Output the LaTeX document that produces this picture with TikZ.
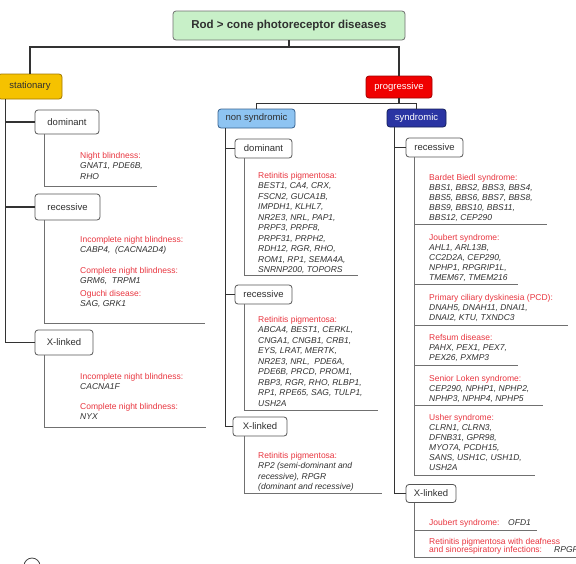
\documentclass[tikz,border=0pt]{standalone}
\usepackage{fontspec}
\setmainfont{Liberation Sans}
\definecolor{titlefill}{RGB}{200,240,200}
\definecolor{titleline}{RGB}{110,110,110}
\definecolor{statfill}{RGB}{245,194,0}
\definecolor{statline}{RGB}{160,120,0}
\definecolor{progfill}{RGB}{240,0,0}
\definecolor{progline}{RGB}{160,0,0}
\definecolor{nsfill}{RGB}{142,196,242}
\definecolor{nsline}{RGB}{53,97,143}
\definecolor{synfill}{RGB}{42,52,163}
\definecolor{synline}{RGB}{21,32,90}
\definecolor{rd}{RGB}{232,53,63}
\definecolor{gene}{RGB}{48,48,48}
\definecolor{spinec}{RGB}{51,51,51}
\definecolor{innerc}{RGB}{112,112,112}
\definecolor{boxline}{RGB}{85,85,85}
\newcommand\myhd[1]{\textcolor{rd}{#1}}
\newcommand\mygn[1]{\textit{#1}}
\begin{document}
\begin{tikzpicture}[x=1pt,y=-1pt,
  box/.style={draw=boxline, fill=white, rounded corners=3pt, line width=0.8pt,
    font=\fontsize{9.5}{11}\selectfont, text=gene, inner sep=0pt},
  spine/.style={draw=spinec, line width=1.1pt},
  inner/.style={draw=innerc, line width=0.9pt},
  blk/.style={anchor=base west, align=left, inner sep=0pt,
    font=\fontsize{8.5}{10.5}\selectfont, text=gene},
  blkr/.style={blk, font=\fontsize{8.5}{10.1}\selectfont}]
\useasboundingbox (0,0) rectangle (576,563);
\clip (0,0) rectangle (576,563);

% boxes
\node[box, fill=titlefill, draw=titleline, minimum width=232, minimum height=29,
  font=\bfseries\fontsize{11.5}{13}\selectfont] (title) at (289,25.5) {Rod > cone photoreceptor diseases};
\node[box, fill=statfill, draw=statline, minimum width=64, minimum height=25] (stat) at (30,86.5) {stationary};
\node[box, fill=progfill, draw=progline, text=white, minimum width=66, minimum height=22] (prog) at (399,87) {progressive};
\node[box, fill=nsfill, draw=nsline, minimum width=77, minimum height=19] (nonsyn) at (256.5,118.5) {non syndromic};
\node[box, fill=synfill, draw=synline, text=white, minimum width=59, minimum height=18] (syn) at (416.5,118) {syndromic};

\node[box, minimum width=64, minimum height=24] (sdom) at (67,122) {dominant};
\node[box, minimum width=65, minimum height=26] (srec) at (67.5,207) {recessive};
\node[box, minimum width=58, minimum height=25] (sxl) at (64,342.5) {X-linked};

\node[box, minimum width=57, minimum height=19] (ndom) at (263.5,148.5) {dominant};
\node[box, minimum width=57, minimum height=19] (nrec) at (263.5,294.5) {recessive};
\node[box, minimum width=54, minimum height=19] (nxl) at (260,426.5) {X-linked};

\node[box, minimum width=57, minimum height=19] (yrec) at (434.5,147.5) {recessive};
\node[box, minimum width=50, minimum height=18] (yxl) at (431,493.5) {X-linked};

% main connectors
\coordinate (j1) at (289,47);
\draw[spine] (title.south) -- (j1);
\draw[spine] (j1) -| (stat.north);
\draw[spine] (j1) -| (prog.north);
\draw[spine] (prog.south) -- ++(0,5) coordinate (j2);
\draw[spine] (j2) -| (nonsyn.north);
\draw[spine] (j2) -| (syn.north);

\draw[spine] ([xshift=8pt]stat.south west) |- (sdom.west);
\draw[spine] ([xshift=8pt]stat.south west) |- (srec.west);
\draw[spine] ([xshift=8pt]stat.south west) |- (sxl.west);

\draw[spine] ([xshift=8pt]nonsyn.south west) |- (ndom.west);
\draw[spine] ([xshift=8pt]nonsyn.south west) |- (nrec.west);
\draw[spine] ([xshift=8pt]nonsyn.south west) |- (nxl.west);

\draw[spine] ([xshift=8pt]syn.south west) |- (yrec.west);
\draw[spine] ([xshift=8pt]syn.south west) |- (yxl.west);

% inner brackets
\coordinate (e1) at (157,186);
\coordinate (e2) at (205,323);
\coordinate (e3) at (206,427);
\coordinate (e4) at (358,275);
\coordinate (e5) at (378,410);
\coordinate (e6) at (382,493);
\draw[inner] ([xshift=10pt]sdom.south west) |- (e1);
\draw[inner] ([xshift=10pt]srec.south west) |- (e2);
\draw[inner] ([xshift=10pt]sxl.south west) |- (e3);
\draw[inner] ([xshift=10pt]ndom.south west) |- (e4);
\draw[inner] ([xshift=10pt]nrec.south west) |- (e5);
\draw[inner] ([xshift=12pt]nxl.south west) |- (e6);

\coordinate (yv) at ([xshift=9pt]yrec.south west);
\coordinate (r1) at (547,224);
\coordinate (r2) at (518,284);
\coordinate (r3) at (568,325);
\coordinate (r4) at (518,365);
\coordinate (r5) at (543,405);
\coordinate (r6) at (535,475);
\draw[inner] (yv) |- (r6);
\draw[inner] (yv |- r1) -- (r1);
\draw[inner] (yv |- r2) -- (r2);
\draw[inner] (yv |- r3) -- (r3);
\draw[inner] (yv |- r4) -- (r4);
\draw[inner] (yv |- r5) -- (r5);

\coordinate (xv) at ([xshift=9pt]yxl.south west);
\coordinate (x1) at (537,530);
\coordinate (x2) at (590,557);
\draw[inner] (xv) |- (x2);
\draw[inner] (xv |- x1) -- (x1);

% texts, left column (anchor = baseline of last line)
\node[blk] (sdomt) at (80,179) {\myhd{Night blindness:}\\ \mygn{GNAT1, PDE6B,}\\ \mygn{RHO}};
\node[blk] (sreca) at (80,252.5) {\myhd{Incomplete night blindness:}\\ \mygn{CABP4,\ \ (CACNA2D4)}};
\node[blk] (srecb) at (80,283.5) {\myhd{Complete night blindness:}\\ \mygn{GRM6,\ \ TRPM1}};
\node[blk] (srecc) at (80,306.5) {\myhd{Oguchi disease:}\\ \mygn{SAG, GRK1}};
\node[blk] (sxla) at (80,389.5) {\myhd{Incomplete night blindness:}\\ \mygn{CACNA1F}};
\node[blk] (sxlb) at (80,419.5) {\myhd{Complete night blindness:}\\ \mygn{NYX}};

% middle column
\node[blk] (ndomt) at (258,272.5) {\myhd{Retinitis pigmentosa:}\\ \mygn{BEST1, CA4, CRX,}\\ \mygn{FSCN2, GUCA1B,}\\ \mygn{IMPDH1, KLHL7,}\\ \mygn{NR2E3, NRL, PAP1,}\\ \mygn{PRPF3, PRPF8,}\\ \mygn{PRPF31, PRPH2,}\\ \mygn{RDH12, RGR, RHO,}\\ \mygn{ROM1, RP1, SEMA4A,}\\ \mygn{SNRNP200, TOPORS}};
\node[blk] (nrect) at (258,406) {\myhd{Retinitis pigmentosa:}\\ \mygn{ABCA4, BEST1, CERKL,}\\ \mygn{CNGA1, CNGB1, CRB1,}\\ \mygn{EYS, LRAT, MERTK,}\\ \mygn{NR2E3, NRL,\ \ PDE6A,}\\ \mygn{PDE6B, PRCD, PROM1,}\\ \mygn{RBP3, RGR, RHO, RLBP1,}\\ \mygn{RP1, RPE65, SAG, TULP1,}\\ \mygn{USH2A}};
\node[blk] (nxlt) at (258,489.5) {\myhd{Retinitis pigmentosa:}\\ \mygn{RP2 (semi-dominant and}\\ \mygn{recessive), RPGR}\\ \mygn{(dominant and recessive)}};

% right column
\node[blkr] (ybbs) at (429,220.4) {\myhd{Bardet Biedl syndrome:}\\ \mygn{BBS1, BBS2, BBS3, BBS4,}\\ \mygn{BBS5, BBS6, BBS7, BBS8,}\\ \mygn{BBS9, BBS10, BBS11,}\\ \mygn{BBS12, CEP290}};
\node[blkr] (yjou) at (429,280.4) {\myhd{Joubert syndrome:}\\ \mygn{AHL1, ARL13B,}\\ \mygn{CC2D2A, CEP290,}\\ \mygn{NPHP1, RPGRIP1L,}\\ \mygn{TMEM67, TMEM216}};
\node[blkr] (ypcd) at (429,320.2) {\myhd{Primary ciliary dyskinesia (PCD):}\\ \mygn{DNAH5, DNAH11, DNAI1,}\\ \mygn{DNAI2, KTU, TXNDC3}};
\node[blkr] (yref) at (429,360.2) {\myhd{Refsum disease:}\\ \mygn{PAHX, PEX1, PEX7,}\\ \mygn{PEX26, PXMP3}};
\node[blkr] (ysl) at (429,401.2) {\myhd{Senior Loken syndrome:}\\ \mygn{CEP290, NPHP1, NPHP2,}\\ \mygn{NPHP3, NPHP4, NPHP5}};
\node[blkr] (yush) at (429,470.5) {\myhd{Usher syndrome:}\\ \mygn{CLRN1, CLRN3,}\\ \mygn{DFNB31, GPR98,}\\ \mygn{MYO7A, PCDH15,}\\ \mygn{SANS, USH1C, USH1D,}\\ \mygn{USH2A}};
\node[blkr] (yxa) at (429,525) {\myhd{Joubert syndrome:}};
\node[blkr] (yxag) at (508,525) {\mygn{OFD1}};
\node[blk, font=\fontsize{8.5}{8.7}\selectfont] (yxb) at (429,552.7) {\myhd{Retinitis pigmentosa with deafness}\\ \myhd{and sinorespiratory infections:}};
\node[blkr] (yxbg) at (554,552.7) {\mygn{RPGR}};

% partial circle at lower edge
\draw[black!75, line width=0.8pt] (32,566) circle (8);
\end{tikzpicture}
\end{document}
